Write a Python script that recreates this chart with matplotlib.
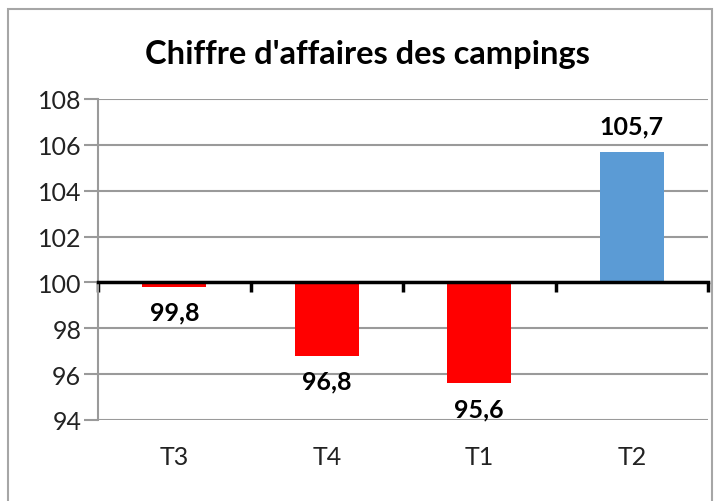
import matplotlib
matplotlib.use("Agg")
import matplotlib.pyplot as plt
from matplotlib.patches import Rectangle

# données du graphique
trimestres = ["T3", "T4", "T1", "T2"]
valeurs = [99.8, 96.8, 95.6, 105.7]
base = 100
couleurs = ["#FF0000", "#FF0000", "#FF0000", "#5B9BD5"]
graduations = [94, 96, 98, 100, 102, 104, 106, 108]

plt.rcParams["font.family"] = ["Lato", "DejaVu Sans"]

fig = plt.figure(figsize=(7.14, 5.02), dpi=100)
ax = fig.add_axes([0.1373, 0.1614, 0.8543, 0.6394])

# barres partant de la base 100
positions = list(range(len(trimestres)))
hauteurs = [v - base for v in valeurs]
barres = ax.bar(positions, hauteurs, bottom=base, width=0.42, color=couleurs, zorder=3)
etiquettes = [f"{v:.1f}".replace(".", ",") for v in valeurs]
ax.bar_label(barres, labels=etiquettes, padding=10, fontsize=18, fontweight="bold", color="black")

ax.set_xlim(-0.5, len(trimestres) - 0.5)
ax.set_ylim(94, 108)
ax.set_yticks(graduations)
ax.set_yticklabels([str(g) for g in graduations], fontsize=18, color="#222222")
ax.yaxis.grid(True, color="#9a9a9a", linewidth=1.5, zorder=0)
ax.tick_params(axis="y", length=10, width=1.5, color="#9a9a9a", pad=2)

# axe horizontal à 100
for cote in ["top", "right"]:
    ax.spines[cote].set_visible(False)
ax.spines["left"].set_color("#9a9a9a")
ax.spines["left"].set_linewidth(1.5)
ax.spines["bottom"].set_position(("data", base))
ax.spines["bottom"].set_color("black")
ax.spines["bottom"].set_linewidth(2.5)
ax.spines["bottom"].set_zorder(4)
ax.set_xticks([p - 0.5 for p in positions] + [len(trimestres) - 0.5])
ax.set_xticklabels([])
ax.tick_params(axis="x", direction="out", length=7, width=2.5, color="black")

# noms des trimestres sous le graphique
for p, t in zip(positions, trimestres):
    ax.text(p, -0.115, t, transform=ax.get_xaxis_transform(), ha="center", va="center",
            fontsize=18, color="#222222")

fig.text(0.515, 0.892, "Chiffre d'affaires des campings", ha="center", va="center",
         fontsize=23.5, fontweight="bold", color="black")

# cadre du graphique
fig.patches.append(Rectangle((8 / 714, -0.1), 704 / 714, 1.1 - 10 / 502,
                             transform=fig.transFigure, fill=False,
                             edgecolor="#a6a6a6", linewidth=1.5))

fig.savefig("out.png", dpi=100)
